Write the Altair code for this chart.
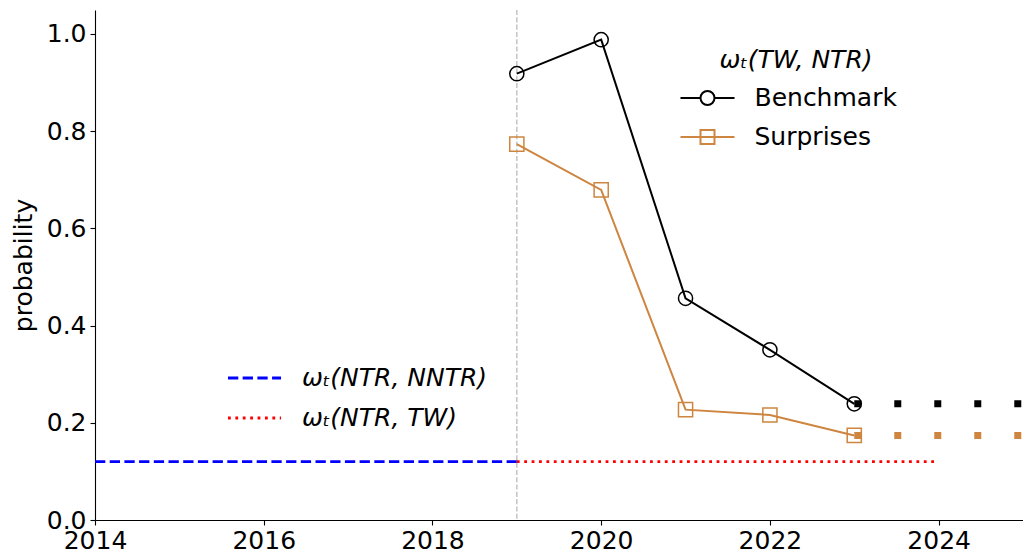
import altair as alt
import pandas as pd

# ---- data ----
years = [2019, 2020, 2021, 2022, 2023]
benchmark = [0.918, 0.988, 0.456, 0.350, 0.239]
surprises = [0.773, 0.679, 0.227, 0.216, 0.174]
series_names = ["Benchmark", "Surprises"]
series_colors = ["#000000", "#CD853F"]

ext_years = [2023, 2025]
ext_benchmark = [0.239, 0.239]
ext_surprises = [0.174, 0.174]

flat_names = ["ωₜ(NTR, NNTR)", "ωₜ(NTR, TW)"]
flat_start = [2014, 2019]
flat_end = [2019, 2024]
flat_value = [0.12, 0.12]
flat_colors = ["#0000FF", "#FF0000"]

break_year = [2019]

x_ticks = [2014, 2016, 2018, 2020, 2022, 2024]
y_ticks = [0.0, 0.2, 0.4, 0.6, 0.8, 1.0]

FONT = "DejaVu Sans"
FS = 25

# ---- tables ----
main_df = pd.DataFrame({
    "year": years * 2,
    "value": benchmark + surprises,
    "series": [series_names[0]] * len(years) + [series_names[1]] * len(years),
})
ext_df = pd.DataFrame({
    "year": ext_years * 2,
    "value": ext_benchmark + ext_surprises,
    "series": [series_names[0]] * 2 + [series_names[1]] * 2,
})
flat_df = pd.DataFrame({
    "start": flat_start, "end": flat_end, "value": flat_value, "name": flat_names,
})
vline_df = pd.DataFrame({"year": break_year})

# ---- scales / axes ----
xscale = alt.Scale(domain=[2014, 2025], nice=False, zero=False)
yscale = alt.Scale(domain=[0, 1.049], nice=False, zero=False)

xaxis = alt.Axis(values=x_ticks, format="d", title=None, grid=False,
                 domainColor="black", domainWidth=1.1, tickColor="black",
                 tickWidth=1.1, tickSize=5, labelFont=FONT, labelFontSize=FS,
                 labelColor="black", labelPadding=3, labelFlush=False,
                 labelOverlap=False)
yaxis = alt.Axis(values=y_ticks, format=".1f", title="probability", grid=False,
                 domainColor="black", domainWidth=1.1, tickColor="black",
                 tickWidth=1.1, tickSize=5, labelFont=FONT, labelFontSize=FS,
                 labelColor="black", labelPadding=4, labelOverlap=False,
                 titleFont=FONT, titleFontSize=FS, titleFontWeight="normal",
                 titleColor="black", titlePadding=10)

X = lambda f: alt.X(f, type="quantitative", scale=xscale, axis=xaxis)
Y = lambda f: alt.Y(f, type="quantitative", scale=yscale, axis=yaxis)

cscale = alt.Scale(domain=series_names, range=series_colors)

base = alt.Chart(main_df)

lines = base.mark_line(strokeWidth=2).encode(
    x=X("year"), y=Y("value"),
    color=alt.Color("series:N", scale=cscale, legend=None),
)

points = base.mark_point(filled=False, size=200, strokeWidth=1.5, opacity=1).encode(
    x=X("year"), y=Y("value"),
    color=alt.Color("series:N", scale=cscale, legend=None),
    shape=alt.Shape("series:N", scale=alt.Scale(domain=series_names, range=["circle", "square"]), legend=None),
)

ext = alt.Chart(ext_df).mark_line(strokeWidth=7, strokeDash=[7, 33], strokeCap="butt").encode(
    x=X("year"), y=Y("value"),
    color=alt.Color("series:N", scale=cscale, legend=None),
)

circ_path = "M-3.86,0H-1M1,0H3.86M1,0A1,1,0,1,1,-1,0A1,1,0,1,1,1,0"
sq_path = "M-3.86,0H3.86M-1,-1H1V1H-1Z"

def series_legend():
    return alt.Legend(
        title="ωₜ(TW, NTR)", orient="none", legendX=600, legendY=37.5,
        padding=0, titleFont=FONT, titleFontSize=FS, titleFontStyle="italic",
        titleFontWeight="normal", titleColor="black", titleAnchor="middle",
        titlePadding=13, labelFont=FONT, labelFontSize=FS, labelColor="black",
        labelOffset=34.5, labelLimit=300, rowPadding=13, symbolSize=196,
        symbolStrokeWidth=2, symbolFillColor="transparent", symbolOffset=0,
        symbolOpacity=1)

legend1 = base.transform_filter("false").mark_point(filled=False, opacity=1).encode(
    x=X("year"), y=Y("value"),
    color=alt.Color("series:N", scale=cscale, legend=series_legend()),
    shape=alt.Shape("series:N", scale=alt.Scale(domain=series_names, range=[circ_path, sq_path]),
                    legend=series_legend()),
)

flat_legend = alt.Legend(
    title=None, orient="none", legendX=147, legendY=355.5, padding=0,
    labelFont=FONT, labelFontSize=FS, labelColor="black", labelFontStyle="italic",
    labelOffset=35, labelLimit=300, rowPadding=14, symbolSize=196,
    symbolStrokeWidth=2.8, symbolType="M-3.79,0H3.79", symbolOffset=0,
    symbolOpacity=1)

flat = alt.Chart(flat_df).mark_rule(strokeWidth=2.8, strokeCap="butt").encode(
    x=X("start"), x2="end", y=Y("value"),
    color=alt.Color("name:N", scale=alt.Scale(domain=flat_names, range=flat_colors), legend=flat_legend),
    strokeDash=alt.StrokeDash("name:N", scale=alt.Scale(domain=flat_names, range=[[10.3, 4.4], [2.8, 4.6]]),
                              legend=flat_legend),
)

vline = alt.Chart(vline_df).mark_rule(color="#c0c0c0", strokeWidth=1.4, strokeDash=[5.1, 2.2]).encode(
    x=X("year"),
)

chart = alt.layer(vline, flat, lines, points, ext, legend1).resolve_scale(
    color="independent", shape="independent", strokeDash="independent"
).properties(
    width=928, height=510,
    padding={"left": 87, "top": 2, "right": 0, "bottom": 34},
    autosize=alt.AutoSizeParams(type="none"),
    background="white",
).configure(font=FONT).configure_view(strokeWidth=0, stroke=None)

chart.save("out.html", embed_options={"renderer": "svg", "actions": False})
